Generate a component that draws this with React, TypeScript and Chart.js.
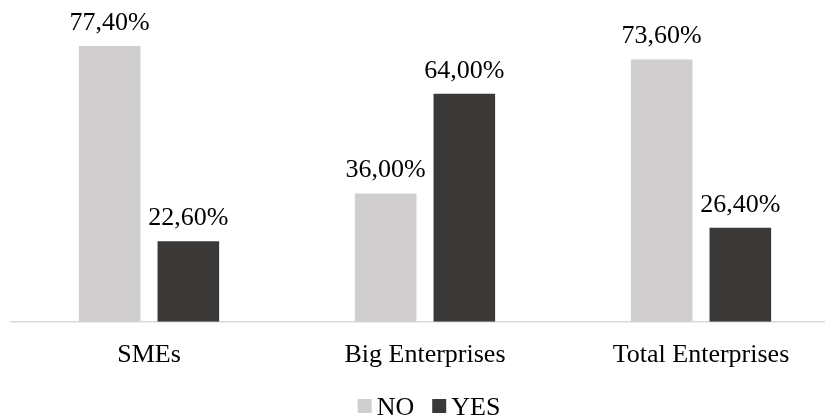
import React, { useEffect, useRef } from "react";
import { Chart, registerables } from "chart.js";

Chart.register(...registerables);

const categories = ["SMEs", "Big Enterprises", "Total Enterprises"];
const seriesNames = ["NO", "YES"];
const noValues = [77.4, 36.0, 73.6];
const yesValues = [22.6, 64.0, 26.4];
const seriesColors = ["#d0cece", "#3b3838"];

const FONT = "'Liberation Serif', 'Times New Roman', serif";
const FONT_SIZE = 26;

const fmt = (v: number) => v.toFixed(2).replace(".", ",") + "%";

const valueLabels = {
  id: "valueLabels",
  afterDatasetsDraw(chart: any) {
    const ctx = chart.ctx;
    ctx.save();
    ctx.font = `${FONT_SIZE}px ${FONT}`;
    ctx.fillStyle = "#000";
    ctx.textAlign = "center";
    ctx.textBaseline = "alphabetic";
    chart.data.datasets.forEach((ds: any, di: number) => {
      const meta = chart.getDatasetMeta(di);
      meta.data.forEach((bar: any, i: number) => {
        ctx.fillText(fmt(ds.data[i]), bar.x, bar.y - 16);
      });
    });
    ctx.restore();
  },
};

const customLegend = {
  id: "customLegend",
  afterDraw(chart: any) {
    const ctx = chart.ctx;
    ctx.save();
    ctx.font = `${FONT_SIZE}px ${FONT}`;
    ctx.textBaseline = "alphabetic";
    ctx.textAlign = "left";
    const box = 14;
    const boxGap = 5;
    const itemGap = 18;
    const widths = seriesNames.map((n) => ctx.measureText(n).width);
    let total = 0;
    widths.forEach((w, i) => {
      total += box + boxGap + w + (i < widths.length - 1 ? itemGap : 0);
    });
    const centerX = (chart.chartArea.left + chart.chartArea.right) / 2 + 4;
    let x = centerX - total / 2;
    const baseline = 415;
    seriesNames.forEach((n, i) => {
      ctx.fillStyle = seriesColors[i];
      ctx.fillRect(x, baseline - 16, box, box);
      ctx.fillStyle = "#000";
      ctx.fillText(n, x + box + boxGap, baseline);
      x += box + boxGap + widths[i] + itemGap;
    });
    ctx.restore();
  },
};

export default function App() {
  const ref = useRef<HTMLCanvasElement>(null);
  useEffect(() => {
    if (!ref.current) return;
    const chart = new Chart(ref.current, {
      type: "bar",
      data: {
        labels: categories,
        datasets: [
          {
            label: seriesNames[0],
            data: noValues,
            backgroundColor: seriesColors[0],
            categoryPercentage: 0.57,
            barPercentage: 0.783,
          },
          {
            label: seriesNames[1],
            data: yesValues,
            backgroundColor: seriesColors[1],
            categoryPercentage: 0.57,
            barPercentage: 0.783,
          },
        ],
      },
      options: {
        responsive: false,
        animation: false,
        devicePixelRatio: 1,
        layout: { padding: { top: 1, left: 11, right: 1, bottom: 30 } },
        plugins: {
          legend: { display: false },
          tooltip: { enabled: false },
        },
        scales: {
          x: {
            grid: { display: false, drawTicks: false },
            border: { display: true, color: "#d9d9d9", width: 1.5 },
            ticks: {
              color: "#000",
              padding: 18,
              font: { family: FONT, size: FONT_SIZE },
            },
          },
          y: {
            display: false,
            min: 0,
            max: 90,
          },
        },
      },
      plugins: [valueLabels, customLegend],
    });
    return () => chart.destroy();
  }, []);
  return (
    <div style={{ position: "absolute", left: 0, top: 0, width: 825, height: 419, overflow: "hidden" }}>
      <canvas ref={ref} width={840} height={419} style={{ display: "block" }} />
    </div>
  );
}
